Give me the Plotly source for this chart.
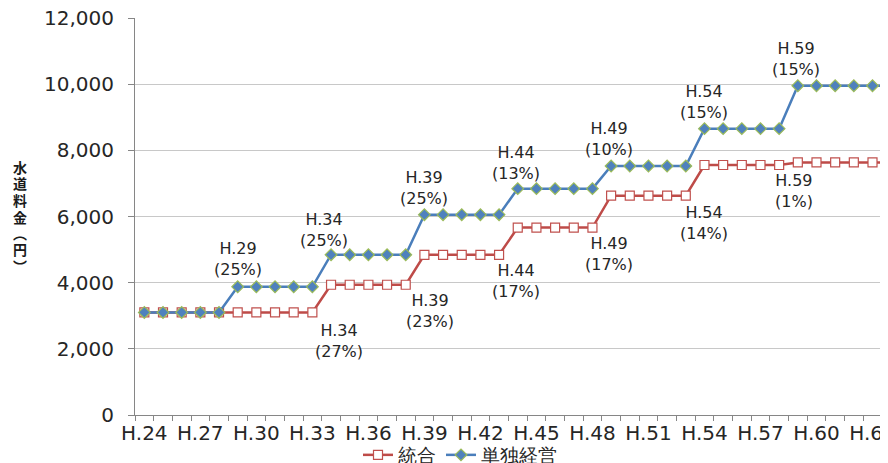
import plotly.graph_objects as go

AZUL = "#4A7EBB"
VERMELHO = "#C0504D"
VERDE = "#9BBB59"
TEXTO = "#262626"
FONTE = "DejaVu Sans"

anos = [f"H.{n}" for n in range(24, 65)]
rotulos_x = [a if (i % 3 == 0) else "" for i, a in enumerate(anos)]

tougou = [3100] * 10 + [3937] * 5 + [4843] * 5 + [5666] * 5 + [6629] * 5 + [7557] * 5 + [7633] * 6
tandoku = [3100] * 5 + [3875] * 5 + [4844] * 5 + [6055] * 5 + [6842] * 5 + [7526] * 5 + [8655] * 5 + [9953] * 6

# (ano, valor do rotulo, texto, deslocamento x)
notas_tandoku = [
    ("H.29", 4716, "H.29<br>(25%)", 0),
    ("H.34", 5607, "H.34<br>(25%)", -7),
    ("H.39", 6847, "H.39<br>(25%)", 0),
    ("H.44", 7603, "H.44<br>(13%)", -2),
    ("H.49", 8343, "H.49<br>(10%)", -2),
    ("H.54", 9462, "H.54<br>(15%)", 0),
    ("H.59", 10762, "H.59<br>(15%)", -2),
]
notas_tougou = [
    ("H.34", 2252, "H.34<br>(27%)", 8),
    ("H.39", 3144, "H.39<br>(23%)", 6),
    ("H.44", 4036, "H.44<br>(17%)", -2),
    ("H.49", 4852, "H.49<br>(17%)", -2),
    ("H.54", 5804, "H.54<br>(14%)", 0),
    ("H.59", 6771, "H.59<br>(1%)", -4),
]

titulo_y = ["水", "道", "料", "金", "︵", "円", "︶"]

fig = go.Figure()
fig.add_trace(go.Scatter(
    x=anos, y=tougou, name="統合", mode="lines+markers",
    line=dict(color="#BE4B48", width=2.5),
    marker=dict(symbol="square", size=9, color="white",
                line=dict(color=VERMELHO, width=1.2)),
))
fig.add_trace(go.Scatter(
    x=anos, y=tandoku, name="単独経営", mode="lines+markers",
    line=dict(color=AZUL, width=2.5),
    marker=dict(symbol="diamond", size=9, color="#4F81BD",
                line=dict(color=VERDE, width=1.2)),
))

for ano, v, t, dx in notas_tandoku + notas_tougou:
    fig.add_annotation(x=ano, y=v, text=t, showarrow=False, xshift=dx,
                       font=dict(size=16, color=TEXTO, family=FONTE))

# titulo vertical, um caractere por vez
for k, ch in enumerate(titulo_y):
    fig.add_annotation(
        xref="paper", yref="paper", x=(20 - 135) / 753, y=(415 - 167 - 16.5 * k) / 397,
        text=f"<b>{ch}</b>", showarrow=False, xanchor="center", yanchor="middle",
        font=dict(size=14, color="#1a1a1a", family="Noto Sans CJK JP"),
    )

# a pagina tem 8px de margem no body: o tamanho e as margens compensam isso
fig.update_layout(
    width=880, height=455,
    plot_bgcolor="white", paper_bgcolor="white",
    font=dict(family=FONTE, color=TEXTO),
    margin=dict(t=10, b=48, l=127, r=0, pad=0),
    showlegend=True,
    legend=dict(orientation="h", xref="container", yref="container",
                x=452 / 880, y=1 - 447 / 455, xanchor="center", yanchor="middle",
                font=dict(size=19, color=TEXTO), bgcolor="rgba(0,0,0,0)",
                itemwidth=30, tracegroupgap=0),
)
fig.update_xaxes(
    type="category", range=[-0.5, 39.83], automargin=False,
    tickvals=anos, ticktext=rotulos_x, tickson="boundaries",
    ticks="outside", ticklen=5, tickcolor="#868686",
    showline=True, linecolor="#868686", linewidth=1,
    showgrid=False, tickfont=dict(size=20, color=TEXTO), tickangle=0,
)
fig.update_yaxes(
    range=[0, 12000], dtick=2000, tickformat=",d", automargin=False,
    ticklabeloverflow="allow",
    ticks="outside", ticklen=6, tickcolor="#868686", ticklabelstandoff=10,
    showline=True, linecolor="#868686", linewidth=1,
    showgrid=True, gridcolor="#C8C8C8", gridwidth=1,
    tickfont=dict(size=20, color=TEXTO), zeroline=False,
)

fig.write_html("out.html")
